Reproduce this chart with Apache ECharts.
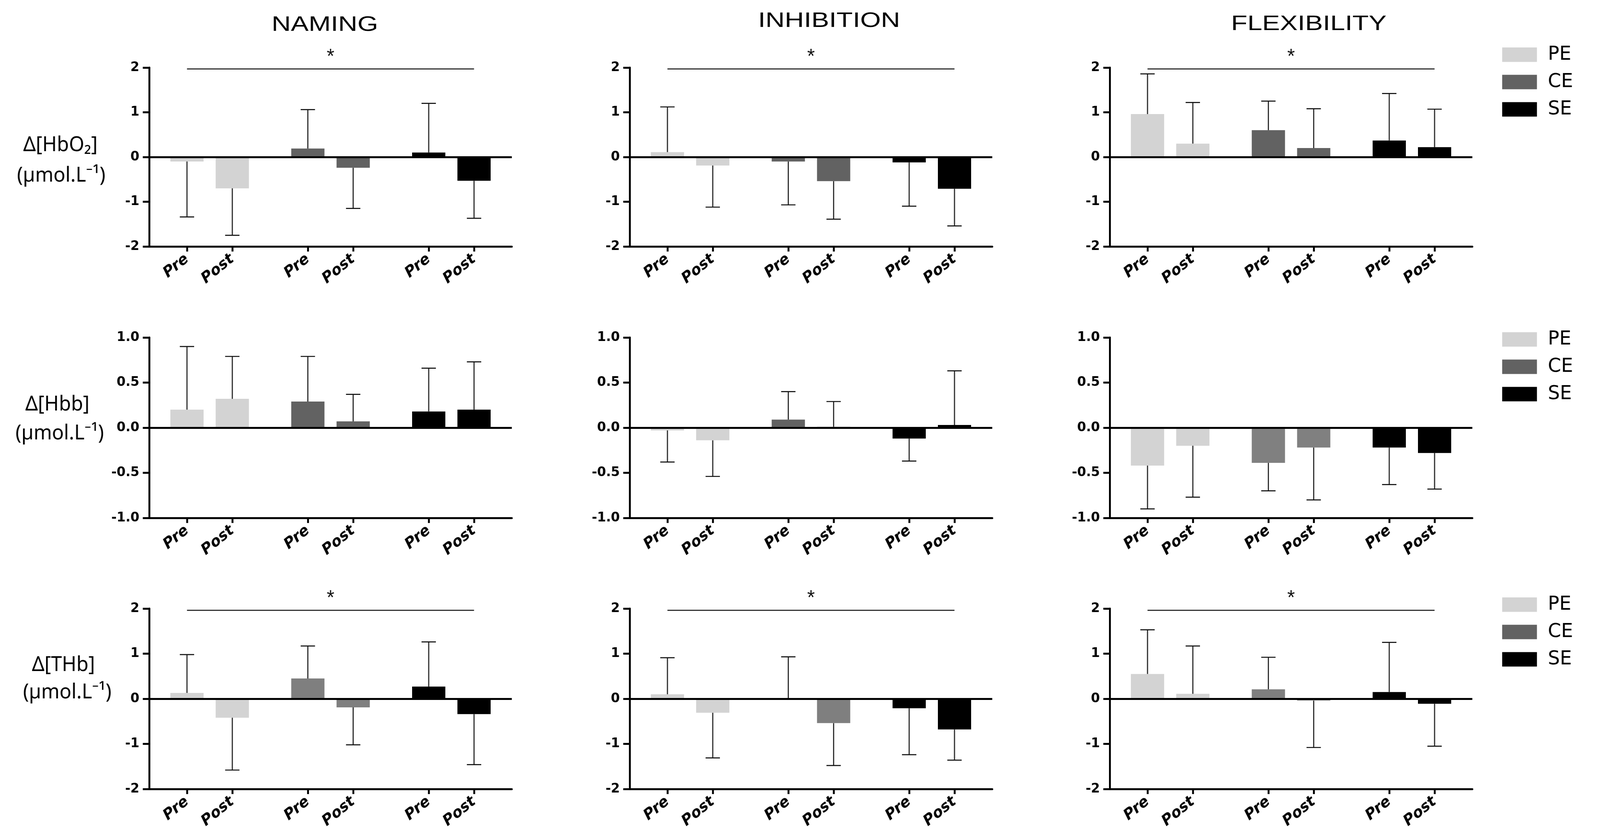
<!DOCTYPE html>
<html>
<head>
<meta charset="utf-8">
<script src="https://cdn.jsdelivr.net/npm/echarts@6/dist/echarts.min.js"></script>
<style>html,body{margin:0;padding:0;background:#fff;overflow:hidden;}#chart{width:4236px;height:2148px;transform-origin:0 0;}</style>
</head>
<body>
<div id="chart"></div>
<script>
// ---------------- DATA ----------------
const tasks = ['NAMING', 'INHIBITION', 'FLEXIBILITY'];
const measures = ['Δ[HbO₂]', 'Δ[Hbb]', 'Δ[THb]'];
const unitLabel = '(µmol.L⁻¹)';
const groups = ['PE', 'CE', 'SE'];
const phases = ['Pre', 'Post'];
// order in each array: PE Pre, PE Post, CE Pre, CE Post, SE Pre, SE Post
const hbo2NamingMean = [-0.10, -0.70, 0.19, -0.24, 0.10, -0.53];
const hbo2NamingSD   = [1.24, 1.05, 0.87, 0.91, 1.10, 0.84];
const hbo2InhibMean  = [0.11, -0.19, -0.10, -0.54, -0.12, -0.71];
const hbo2InhibSD    = [1.01, 0.93, 0.97, 0.85, 0.98, 0.83];
const hbo2FlexMean   = [0.96, 0.30, 0.60, 0.20, 0.37, 0.22];
const hbo2FlexSD     = [0.90, 0.92, 0.65, 0.88, 1.05, 0.85];
const hbbNamingMean  = [0.20, 0.32, 0.29, 0.07, 0.18, 0.20];
const hbbNamingSD    = [0.70, 0.47, 0.50, 0.30, 0.48, 0.53];
const hbbInhibMean   = [-0.03, -0.14, 0.09, 0.01, -0.12, 0.03];
const hbbInhibSD     = [0.35, 0.40, 0.31, 0.28, 0.25, 0.60];
const hbbFlexMean    = [-0.42, -0.20, -0.39, -0.22, -0.22, -0.28];
const hbbFlexSD      = [0.48, 0.57, 0.31, 0.58, 0.41, 0.40];
const thbNamingMean  = [0.13, -0.42, 0.45, -0.19, 0.27, -0.34];
const thbNamingSD    = [0.85, 1.16, 0.72, 0.83, 0.99, 1.12];
const thbInhibMean   = [0.10, -0.31, 0.00, -0.54, -0.21, -0.68];
const thbInhibSD     = [0.81, 1.00, 0.93, 0.94, 1.03, 0.68];
const thbFlexMean    = [0.55, 0.11, 0.21, -0.04, 0.15, -0.11];
const thbFlexSD      = [0.98, 1.06, 0.71, 1.04, 1.10, 0.94];
const significant    = [true, true, true, false, false, false, true, true, true];
const sigLevel       = [1.97, 1.97, 1.97, 0, 0, 0, 1.96, 1.96, 1.96];
const yRanges = [[-2, 2, 1], [-1, 1, 0.5], [-2, 2, 1]];

const panelMeans = [hbo2NamingMean, hbo2InhibMean, hbo2FlexMean, hbbNamingMean, hbbInhibMean, hbbFlexMean, thbNamingMean, thbInhibMean, thbFlexMean];
const panelSDs = [hbo2NamingSD, hbo2InhibSD, hbo2FlexSD, hbbNamingSD, hbbInhibSD, hbbFlexSD, thbNamingSD, thbInhibSD, thbFlexSD];

// ---------------- LAYOUT / STYLE ----------------
const nSlots = 24;
const barSlots = [2, 5, 10, 13, 18, 21];
const panelLeft = [395, 1667, 2938];
const rowTop = [173, 864, 1558];
const rowHeight = [458, 462, 462];
const gridWidth = 960;
const peColor = '#d3d3d3';
const ceColors = ['#626262', '#626262', '#626262', '#626262', '#626262', '#808080', '#7f7f7f', '#7f7f7f', '#7f7f7f'];
const seColor = '#000000';
const legendTop = [110, 839, 1518];

// map the 4236x2148 drawing onto the real viewport
const vw = document.documentElement.clientWidth, vh = document.documentElement.clientHeight;
document.getElementById('chart').style.transform = 'scale(' + (vw / 4236) + ',' + (vh / 2148) + ')';

const slotNames = Array.from({length: nSlots}, (_, i) => 's' + i);
const slotLabel = {};
barSlots.forEach((s, k) => { slotLabel['s' + s] = phases[k % 2]; });
const isLabelled = (i) => slotLabel['s' + i] !== undefined;

const grids = [], xAxes = [], yAxes = [], series = [];
for (let r = 0; r < 3; r++) {
  for (let c = 0; c < 3; c++) {
    const p = r * 3 + c;
    grids.push({left: panelLeft[c], top: rowTop[r], width: gridWidth, height: rowHeight[r], containLabel: false});
    xAxes.push({
      type: 'category', gridIndex: p, data: slotNames, boundaryGap: true,
      axisLine: {onZero: false, lineStyle: {color: '#000', width: 5}},
      axisTick: {show: true, alignWithLabel: true, length: 13, interval: (i) => isLabelled(i), lineStyle: {color: '#000', width: 5}},
      axisLabel: {interval: (i) => isLabelled(i), formatter: (v) => slotLabel[v] || '', rotate: 38, margin: 28,
        fontFamily: 'DejaVu Sans', fontWeight: 'bold', fontStyle: 'italic', fontSize: 39, color: '#000'},
      splitLine: {show: false}
    });
    const yr = yRanges[r];
    yAxes.push({
      type: 'value', gridIndex: p, min: yr[0], max: yr[1], interval: yr[2],
      axisLine: {show: true, lineStyle: {color: '#000', width: 5}},
      axisTick: {show: true, length: 17, lineStyle: {color: '#000', width: 5}},
      splitLine: {show: false},
      axisLabel: {margin: 26, fontFamily: 'DejaVu Sans', fontWeight: 'bold', fontSize: 34, color: '#000',
        formatter: (v) => (r === 1 ? v.toFixed(1) : String(v))}
    });
    const means = panelMeans[p], sds = panelSDs[p];
    const colors = [peColor, ceColors[p], seColor];
    groups.forEach((g, gi) => {
      const data = slotNames.map(() => null);
      for (let ph = 0; ph < 2; ph++) {
        const k = gi * 2 + ph;
        data[barSlots[k]] = means[k];
      }
      const s = {
        type: 'bar', name: g, xAxisIndex: p, yAxisIndex: p, barWidth: 88, barGap: '-100%',
        itemStyle: {color: colors[gi]}, data: data, z: 2, animation: false
      };
      if (gi === 0) {
        s.markLine = {silent: true, symbol: ['none', 'none'], animation: false, label: {show: false},
          lineStyle: {color: '#000', width: 5, type: 'solid'}, emphasis: {disabled: true}, data: [{yAxis: 0}]};
      }
      if (gi === 2 && significant[p]) {
        s.markLine = {silent: true, symbol: ['none', 'none'], animation: false,
          label: {show: true, formatter: '*', position: 'insideMiddleTop', distance: 4, fontSize: 52, color: '#111', fontFamily: 'Liberation Sans'},
          lineStyle: {color: '#333', width: 3, type: 'solid'}, emphasis: {disabled: true},
          data: [[{coord: ['s' + barSlots[0], sigLevel[p]]}, {coord: ['s' + barSlots[5], sigLevel[p]]}]]};
      }
      series.push(s);
    });
    const errData = means.map((m, k) => {
      const dir = m >= 0 ? 1 : -1;
      return ['s' + barSlots[k], m, m + dir * sds[k]];
    });
    series.push({
      type: 'custom', xAxisIndex: p, yAxisIndex: p, z: 3, animation: false, silent: true,
      encode: {x: 0, y: [1, 2]}, data: errData,
      renderItem: (params, api) => {
        const x = api.value(0);
        const p0 = api.coord([x, api.value(1)]);
        const p1 = api.coord([x, api.value(2)]);
        const st = {stroke: '#111', lineWidth: 2.7};
        return {type: 'group', children: [
          {type: 'line', shape: {x1: p0[0], y1: p0[1], x2: p1[0], y2: p1[1]}, style: st},
          {type: 'line', shape: {x1: p1[0] - 19, y1: p1[1], x2: p1[0] + 19, y2: p1[1]}, style: st}
        ]};
      }
    });
  }
}

const legends = legendTop.map(t => ({
  show: true, data: groups, orient: 'vertical', left: 3972, top: t, width: 260,
  itemWidth: 92, itemHeight: 37, itemGap: 20,
  icon: 'rect', selectedMode: false, inactiveColor: '#000',
  textStyle: {fontFamily: 'DejaVu Sans', fontSize: 50, color: '#000', padding: [0, 0, 0, 24]}
}));

const titleX = [860, 2195, 3465];
const titleY = [64, 54, 62];
const labelX = [[160, 162], [152, 158], [168, 178]];
const labelY = [[372, 450], [1036, 1110], [1703, 1773]];
const graphics = [];
tasks.forEach((t, i) => {
  graphics.push({type: 'text', x: titleX[i], y: titleY[i], scaleX: 1.33, silent: true,
    style: {text: t, fontFamily: 'Liberation Sans', fontSize: 53, fill: '#000', align: 'center', textAlign: 'center', verticalAlign: 'middle', textVerticalAlign: 'middle'}});
});
measures.forEach((m, r) => {
  graphics.push({type: 'text', x: labelX[r][0], y: labelY[r][0], silent: true,
    style: {text: m, fontFamily: 'Noto Sans', fontSize: 52, fill: '#000', align: 'center', textAlign: 'center', verticalAlign: 'middle', textVerticalAlign: 'middle'}});
  graphics.push({type: 'text', x: labelX[r][1], y: labelY[r][1], silent: true,
    style: {text: unitLabel, fontFamily: 'Noto Sans', fontSize: 52, fill: '#000', align: 'center', textAlign: 'center', verticalAlign: 'middle', textVerticalAlign: 'middle'}});
});

const chart = echarts.init(document.getElementById('chart'), null, {renderer: 'canvas'});
chart.setOption({
  backgroundColor: '#fff', animation: false,
  grid: grids, xAxis: xAxes, yAxis: yAxes, series: series, legend: legends, graphic: graphics
});
</script>
</body>
</html>
